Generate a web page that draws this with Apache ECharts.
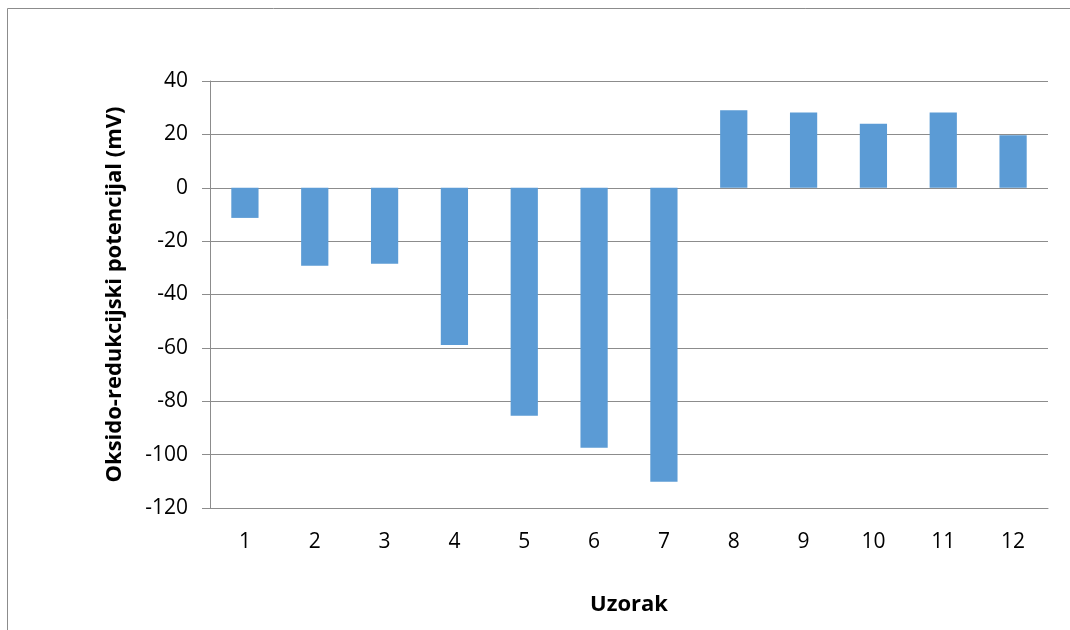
<!DOCTYPE html>
<html>
<head>
<meta charset="utf-8">
<script src="https://cdn.jsdelivr.net/npm/echarts@6/dist/echarts.min.js"></script>
<style>
  html, body { margin: 0; padding: 0; background: #fff; }
  #chart { width: 1070px; height: 630px; }
</style>
</head>
<body>
<div id="chart"></div>
<script>
const categories = ['1', '2', '3', '4', '5', '6', '7', '8', '9', '10', '11', '12'];
const potencijal = [-11.3, -29.2, -28.5, -58.9, -85.4, -97.4, -110.2, 29.0, 28.2, 24.0, 28.2, 19.7];
const yTicks = { min: -120, max: 40, step: 20 };

const fontFamily = 'Open Sans, Lato, sans-serif';
const gridColor = '#8c8c8c';

const chart = echarts.init(document.getElementById('chart'), null, { renderer: 'canvas' });

chart.setOption({
    animation: false,
    backgroundColor: '#fff',
    graphic: [
        {
            type: 'polyline',
            shape: { points: [[7.5, 640], [7.5, 8.5], [1080, 8.5]] },
            style: { stroke: '#8c8c8c', lineWidth: 1, fill: null },
        },
    ],
    grid: {
        left: 210,
        right: 22,
        top: 81,
        bottom: 122,
        containLabel: false,
    },
    xAxis: {
        type: 'category',
        data: categories,
        name: 'Uzorak',
        nameLocation: 'middle',
        nameGap: 86,
        nameTextStyle: {
            fontFamily,
            fontSize: 22,
            fontWeight: 'bold',
            color: '#000',
        },
        axisLine: { show: true, onZero: false, lineStyle: { color: gridColor, width: 1 } },
        axisTick: { show: false },
        axisLabel: {
            fontFamily,
            fontSize: 21,
            color: '#000',
            margin: 24,
        },
    },
    yAxis: {
        type: 'value',
        min: yTicks.min,
        max: yTicks.max,
        interval: yTicks.step,
        name: 'Oksido-redukcijski potencijal (mV)',
        nameLocation: 'middle',
        nameGap: 84,
        nameTextStyle: {
            fontFamily,
            fontSize: 22,
            fontWeight: 'bold',
            color: '#000',
        },
        axisLine: { show: true, lineStyle: { color: gridColor, width: 1 } },
        axisTick: { show: true, length: 8, lineStyle: { color: gridColor } },
        axisLabel: {
            fontFamily,
            fontSize: 21,
            color: '#000',
            margin: 22,
        },
        splitLine: { show: true, lineStyle: { color: gridColor, width: 1 } },
    },
    series: [
        {
            name: 'Oksido-redukcijski potencijal',
            type: 'bar',
            data: potencijal,
            barWidth: '39%',
            itemStyle: { color: '#5b9bd5' },
        },
    ],
});
</script>
</body>
</html>
